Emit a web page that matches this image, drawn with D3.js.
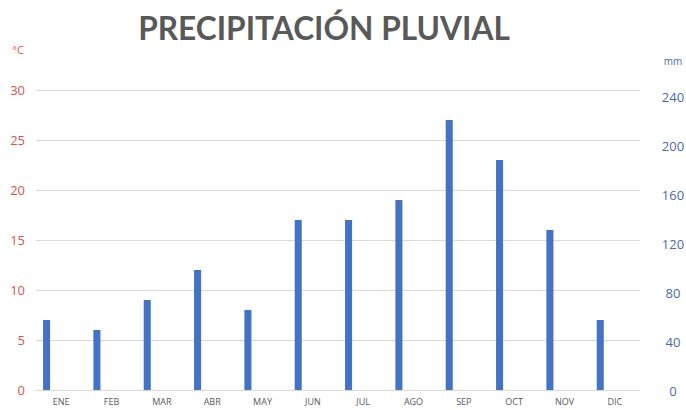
<!DOCTYPE html>
<html>
<head>
<meta charset="utf-8">
<script src="https://cdn.jsdelivr.net/npm/d3@7"></script>
<style>
  body { margin: 0; background: #fff; }
  text { font-family: "Open Sans", "Liberation Sans", sans-serif; }
</style>
</head>
<body>
<div id="chart"></div>
<script>
const months = ["ENE", "FEB", "MAR", "ABR", "MAY", "JUN", "JUL", "AGO", "SEP", "OCT", "NOV", "DIC"];
const precipMm = [56, 48, 72, 96, 64, 136, 136, 152, 216, 184, 128, 56];
const tempTicks = [0, 5, 10, 15, 20, 25, 30];
const mmTicks = [0, 40, 80, 120, 160, 200, 240];

const svgWidth = 686, svgHeight = 410,
    plot = { left: 36, right: 640, top: 90, bottom: 390 };

let svg = d3.select("#chart").append("svg")
    .attr("width", svgWidth)
    .attr("height", svgHeight);

// scales
let x = d3.scaleBand()
    .domain(months)
    .range([plot.left, plot.right]);
let yTemp = d3.scaleLinear()
    .domain([0, 30])
    .range([plot.bottom, plot.top]);
let yMm = d3.scaleLinear()
    .domain([0, 240])
    .range([plot.bottom, plot.top]);
// right-axis labels sit a little off the gridlines in the original
let yMmLabel = d3.scaleLinear()
    .domain([0, 240])
    .range([391, 97]);

// title
let title = svg.append("text")
    .attr("x", 324)
    .attr("y", 40)
    .attr("text-anchor", "middle")
    .attr("fill", "#595959")
    .style("font-family", "Lato, sans-serif")
    .style("font-weight", "bold")
    .style("font-size", "36px")
    .text("PRECIPITACIÓN PLUVIAL");
let tw = title.node().getComputedTextLength();
title.style("font-size", (36 * 372 / tw) + "px");

// gridlines
svg.append("g")
    .selectAll("line")
    .data(tempTicks)
    .join("line")
    .attr("x1", plot.left)
    .attr("x2", plot.right)
    .attr("y1", (d) => yTemp(d) + 0.5)
    .attr("y2", (d) => yTemp(d) + 0.5)
    .attr("stroke", "#d9d9d9")
    .attr("stroke-width", 1);

// left axis (°C)
let leftAxis = svg.append("g")
    .attr("transform", "translate(25,0)")
    .call(d3.axisLeft(yTemp).tickValues(tempTicks).tickSize(0).tickPadding(0));
leftAxis.select(".domain").remove();
leftAxis.selectAll("text")
    .attr("fill", "#d9534f")
    .style("font-size", "13px");

// right axis (mm)
let rightAxis = svg.append("g")
    .attr("transform", "translate(673,0)")
    .call(d3.axisRight(yMmLabel).tickValues(mmTicks).tickSize(0).tickPadding(0));
rightAxis.select(".domain").remove();
rightAxis.selectAll("text")
    .attr("text-anchor", "middle")
    .attr("fill", "#4a6aad")
    .style("font-size", "13px");

// unit labels
svg.append("text")
    .attr("x", 18)
    .attr("y", 54)
    .attr("text-anchor", "middle")
    .attr("fill", "#d9534f")
    .style("font-size", "11px")
    .text("°C");
svg.append("text")
    .attr("x", 673)
    .attr("y", 65)
    .attr("text-anchor", "middle")
    .attr("fill", "#4a6aad")
    .style("font-size", "10px")
    .text("mm");

// month labels
let xAxis = svg.append("g")
    .attr("transform", `translate(0, ${plot.bottom + 9})`)
    .call(d3.axisBottom(x).tickSize(0).tickPadding(0));
xAxis.select(".domain").remove();
xAxis.selectAll("text")
    .attr("fill", "#595959")
    .style("font-size", "9px");

// bars
let barOffset = x.bandwidth() * 0.14,
    barWidth = x.bandwidth() * 0.14;
svg.append("g")
    .selectAll("rect")
    .data(precipMm)
    .join("rect")
    .attr("x", (d, i) => x(months[i]) + barOffset)
    .attr("y", (d) => yMm(d))
    .attr("width", barWidth)
    .attr("height", (d) => plot.bottom - yMm(d))
    .attr("fill", "#4472c4");
</script>
</body>
</html>
